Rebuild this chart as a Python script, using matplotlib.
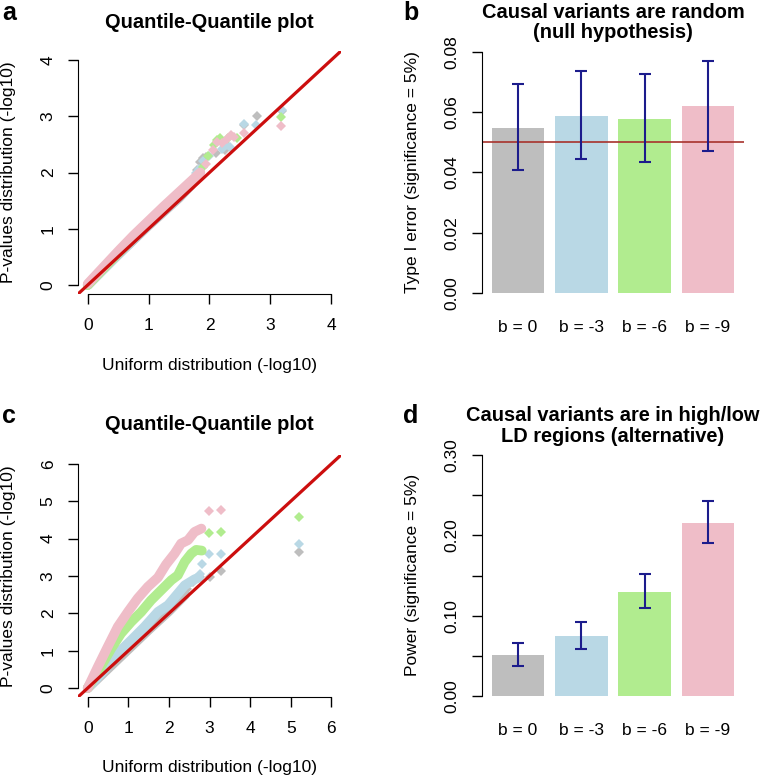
import numpy as np
import matplotlib
matplotlib.use("Agg")
import matplotlib.pyplot as plt

plt.rcParams['font.family'] = ['Liberation Sans', 'DejaVu Sans']

W, H = 762, 779

# series colours: b = 0, -3, -6, -9
colors = ['#bebebe', '#b9d8e5', '#b1ec8f', '#efbdc8']
bar_labels = ['b = 0', 'b = -3', 'b = -6', 'b = -9']

# ---- panel a (null): dense part of QQ curve + separate upper points
a_band_x = [
    [0.0, 0.5, 1.0, 1.5, 1.7],
    [0.0, 0.5, 1.0, 1.5, 1.7],
    [0.0, 0.5, 1.0, 1.5, 1.75],
    [0.0, 0.25, 0.5, 0.75, 1.0, 1.25, 1.5, 1.7, 1.85],
]
a_band_y = [
    [0.0, 0.54, 1.06, 1.55, 1.78],
    [0.0, 0.55, 1.07, 1.57, 1.80],
    [0.0, 0.57, 1.10, 1.62, 1.88],
    [0.02, 0.31, 0.60, 0.88, 1.14, 1.40, 1.65, 1.85, 2.00],
]
a_tail_x = [
    [1.80, 1.85, 1.90, 1.95, 2.10, 2.25, 2.56, 2.78, 3.19],
    [1.78, 1.83, 1.90, 2.00, 2.20, 2.29, 2.33, 2.56, 2.77, 3.19],
    [1.90, 1.98, 2.07, 2.13, 2.18, 2.30, 2.45, 3.18],
    [1.95, 2.05, 2.13, 2.20, 2.28, 2.35, 2.41, 2.56, 3.18],
]
a_tail_y = [
    [2.05, 2.19, 2.25, 2.28, 2.35, 2.40, 2.84, 3.01, 3.10],
    [2.00, 2.07, 2.20, 2.30, 2.42, 2.49, 2.45, 2.86, 2.84, 3.11],
    [2.10, 2.30, 2.49, 2.58, 2.61, 2.62, 2.62, 2.98],
    [2.15, 2.40, 2.55, 2.52, 2.60, 2.67, 2.64, 2.70, 2.83],
]

# ---- panel c (alternative)
c_band_x = [
    [0.0, 0.5, 1.0, 1.5, 2.0, 2.4],
    [0.0, 0.41, 0.74, 1.07, 1.40, 1.73, 1.98, 2.22, 2.39, 2.63, 2.74],
    [0.0, 0.37, 0.58, 0.82, 1.07, 1.32, 1.56, 1.81, 2.06, 2.22, 2.39, 2.55, 2.67, 2.81],
    [0.0, 0.25, 0.49, 0.74, 0.99, 1.23, 1.48, 1.73, 1.93, 2.14, 2.30, 2.47, 2.63, 2.80],
]
c_band_y = [
    [0.0, 0.52, 1.04, 1.56, 2.06, 2.50],
    [0.0, 0.48, 0.93, 1.28, 1.64, 2.04, 2.22, 2.53, 2.75, 2.91, 2.96],
    [0.0, 0.66, 1.06, 1.46, 1.77, 2.04, 2.35, 2.62, 2.89, 3.02, 3.38, 3.60, 3.70, 3.68],
    [0.0, 0.57, 1.10, 1.64, 2.04, 2.40, 2.71, 2.96, 3.31, 3.60, 3.87, 3.96, 4.18, 4.27],
]
c_tail_x = [
    [2.45, 2.60, 2.77, 3.00, 3.28, 5.21],
    [2.77, 2.81, 2.99, 3.29, 5.21],
    [2.99, 3.29, 5.21],
    [2.99, 3.28],
]
c_tail_y = [
    [2.64, 2.85, 2.98, 2.96, 3.13, 3.65],
    [3.05, 3.31, 3.59, 3.60, 3.86],
    [4.16, 4.19, 4.57],
    [4.74, 4.76],
]

# ---- panel b / d bars with CI
typeI = [0.0548, 0.0588, 0.0578, 0.0619]
typeI_lo = [0.0408, 0.0445, 0.0436, 0.0471]
typeI_hi = [0.0693, 0.0737, 0.0727, 0.0770]

power = [0.0508, 0.0744, 0.1293, 0.2157]
power_lo = [0.0380, 0.0587, 0.1091, 0.1909]
power_hi = [0.0661, 0.0917, 0.1517, 0.2426]


def box(x0, y0, x1, y1):
    return [x0 / W, 1 - y1 / H, (x1 - x0) / W, (y1 - y0) / H]


def ftext(x, y, s, **kw):
    fig.text(x / W, 1 - y / H, s, **kw)


fig = plt.figure(figsize=(W / 100, H / 100), dpi=100)


def qq_panel(rect, lim, bx, by, tx, ty):
    ax = fig.add_axes(rect)
    for i in range(4):
        ax.plot(bx[i], by[i], color=colors[i], lw=7, solid_capstyle='round',
                solid_joinstyle='round', zorder=2 + i)
        ax.plot(tx[i], ty[i], 'D', color=colors[i], ms=5.5, mew=0, zorder=2 + i)
    pad = 0.04 * lim
    ax.set_xlim(-pad, lim + pad)
    ax.set_ylim(-pad, lim + pad)
    ax.plot([-pad, lim + pad], [-pad, lim + pad], color='#cc0e0e', lw=2.3,
            zorder=10, clip_on=True)
    ticks = np.arange(0, lim + 1)
    ax.set_xticks(ticks)
    ax.set_yticks(ticks)
    ax.set_xticklabels([str(int(t)) for t in ticks])
    ax.set_yticklabels([str(int(t)) for t in ticks], rotation=90, va='center')
    for s in ['top', 'right']:
        ax.spines[s].set_visible(False)
    ax.spines['left'].set_bounds(0, lim)
    ax.spines['bottom'].set_bounds(0, lim)
    ax.tick_params(length=7, width=1, labelsize=12.5, pad=9)
    ax.tick_params(axis='x', pad=10)
    ax.patch.set_alpha(0)
    return ax


def bar_panel(rect, vals, lo, hi, ymax, ticks, ticklabels):
    ax = fig.add_axes(rect)
    pos = 0.7 + 1.2 * np.arange(4)
    ax.bar(pos, vals, width=1, color=colors, zorder=1)
    err = [np.array(vals) - np.array(lo), np.array(hi) - np.array(vals)]
    ax.errorbar(pos, vals, yerr=err, fmt='none', ecolor='#1c1c8c', elinewidth=1.5,
                capsize=4.5, capthick=1.5, zorder=3)
    ax.set_xlim(0.016, 4.984)
    pad = 0.04 * ymax
    ax.set_ylim(-pad, ymax + pad)
    ax.set_yticks(ticks)
    ax.set_yticklabels(ticklabels, rotation=90, va='center')
    ax.set_xticks(pos)
    ax.set_xticklabels(bar_labels)
    for s in ['top', 'right', 'bottom']:
        ax.spines[s].set_visible(False)
    ax.spines['left'].set_bounds(0, ymax)
    ax.tick_params(axis='y', length=7, width=1, labelsize=12.5, pad=9)
    ax.tick_params(axis='x', length=0, labelsize=12.5, pad=12)
    ax.patch.set_alpha(0)
    return ax


# a
qq_panel(box(78, 51, 341, 294), 4, a_band_x, a_band_y, a_tail_x, a_tail_y)
ftext(209.5, 22.5, 'Quantile-Quantile plot', ha='center', va='center',
      fontsize=14.4, fontweight='bold')
ftext(209.5, 365, 'Uniform distribution (-log10)', ha='center', va='center', fontsize=12.5)
ftext(9, 172.5, 'P-values distribution (-log10)', ha='center', va='center',
      rotation=90, fontsize=12.5)

# c
qq_panel(box(78, 455, 341, 697), 6, c_band_x, c_band_y, c_tail_x, c_tail_y)
ftext(209.5, 425, 'Quantile-Quantile plot', ha='center', va='center',
      fontsize=14.4, fontweight='bold')
ftext(209.5, 767.5, 'Uniform distribution (-log10)', ha='center', va='center', fontsize=12.5)
ftext(9, 576, 'P-values distribution (-log10)', ha='center', va='center',
      rotation=90, fontsize=12.5)

# b
axb = bar_panel(box(482, 42, 744, 303), typeI, typeI_lo, typeI_hi, 0.08,
                [0, 0.02, 0.04, 0.06, 0.08], ['0.00', '0.02', '0.04', '0.06', '0.08'])
axb.axhline(0.05, color='#a8322c', lw=1.2, zorder=2)
ftext(613, 22.5, 'Causal variants are random\n(null hypothesis)', ha='center',
      va='center', fontsize=14.4, fontweight='bold', linespacing=1.1)
ftext(412, 172.5, 'Type I error (significance = 5%)', ha='center', va='center',
      rotation=90, fontsize=12.5)

# d
bar_panel(box(482, 445, 744, 706), power, power_lo, power_hi, 0.30,
          [0, 0.05, 0.10, 0.15, 0.20, 0.25, 0.30],
          ['0.00', '', '0.10', '', '0.20', '', '0.30'])
ftext(613, 426, 'Causal variants are in high/low\nLD regions (alternative)', ha='center',
      va='center', fontsize=14.4, fontweight='bold', linespacing=1.1)
ftext(413, 575, 'Power (significance = 5%)', ha='center', va='center',
      rotation=90, fontsize=12.5)

# panel letters
for x, y, s in [(9, 20, 'a'), (411, 20, 'b'), (9, 423, 'c'), (411, 423, 'd')]:
    ftext(x, y, s, ha='center', va='baseline', fontsize=18, fontweight='bold')

fig.savefig('out.png', dpi=100)
